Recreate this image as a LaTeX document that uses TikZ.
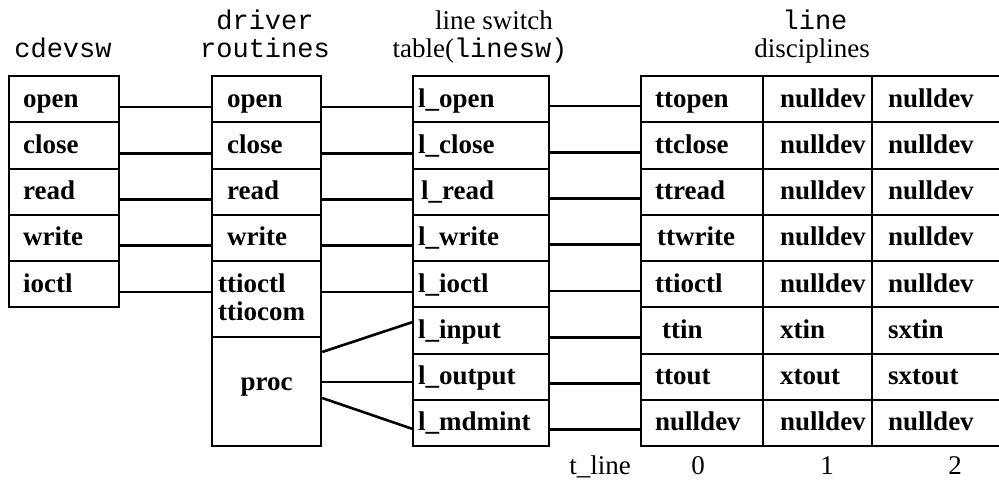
\documentclass[tikz,border=0pt]{standalone}
\usepackage{fontspec}
\setmainfont{Liberation Serif}
\setmonofont{Liberation Mono}
\newcommand\bigsize{\fontsize{27}{30}\selectfont}
\begin{document}
\begin{tikzpicture}[x=1pt,y=-1pt,
  cell/.style={draw, line width=2.2pt, rectangle, inner sep=0pt,
               minimum height=46.25pt, anchor=north west},
  lbl/.style={anchor=base west, inner sep=0pt, font=\bigsize\bfseries},
  head/.style={anchor=base, inner sep=0pt, font=\bigsize},
  wire/.style={line width=2.6pt}]
\clip (0,0) rectangle (999,483);

% column headings
\node[head] (hcdev) at (63,57) {\ttfamily cdevsw};
\node[head] (hdrv1) at (265,29) {\ttfamily driver};
\node[head] (hdrv2) at (265,57) {\ttfamily routines};
\node[head] (hlsw1) at (494,29) {line switch};
\node[head] (hlsw2) at (480,57) {table(\texttt{linesw)}};
\node[head] (hdis1) at (815,29) {\ttfamily line};
\node[head] (hdis2) at (812,57) {disciplines};

% cdevsw entries
\foreach \i/\t in {1/open,2/close,3/read,4/write,5/ioctl} {
  \node[cell, minimum width=110pt] (c\i) at (8,{75+(\i-1)*46.25}) {};
  \node[lbl] (ct\i) at ([xshift=15pt,yshift=-32pt]c\i.north west) {\t};
}

% driver routines
\foreach \i/\t in {1/open,2/close,3/read,4/write} {
  \node[cell, minimum width=109pt] (d\i) at (211,{75+(\i-1)*46.25}) {};
  \node[lbl] (dt\i) at ([xshift=16pt,yshift=-32pt]d\i.north west) {\t};
}
\node[cell, minimum width=109pt, minimum height=76pt] (d5) at (211,260) {};
\node[lbl] (dt5) at ([xshift=7pt,yshift=-32pt]d5.north west) {ttioctl};
\node[lbl] (dt6) at ([xshift=7pt,yshift=-60pt]d5.north west) {ttiocom};
\node[cell, minimum width=109pt, minimum height=109pt] (d6) at (211,336) {};
\node[lbl, anchor=base] (dt7) at ([yshift=-54pt]d6.north) {proc};

% line switch table
\foreach \i/\t/\dx in {1/l\_open/6,2/l\_close/6,3/l\_read/9,4/l\_write/6,
                       5/l\_ioctl/6,6/l\_input/6,7/l\_output/6,8/l\_mdmint/6} {
  \node[cell, minimum width=136pt] (s\i) at (412,{75+(\i-1)*46.25}) {};
  \node[lbl] (st\i) at ([xshift=\dx pt,yshift=-32pt]s\i.north west) {\t};
}

% line disciplines, columns 0, 1, 2
\foreach \i/\a/\dx/\b/\c in {1/ttopen/15/nulldev/nulldev,2/ttclose/15/nulldev/nulldev,
    3/ttread/15/nulldev/nulldev,4/ttwrite/17/nulldev/nulldev,
    5/ttioctl/15/nulldev/nulldev,6/ttin/22/xtin/sxtin,
    7/ttout/15/xtout/sxtout,8/nulldev/15/nulldev/nulldev} {
  \node[cell, minimum width=122pt] (a\i) at (640,{75+(\i-1)*46.25}) {};
  \node[cell, minimum width=109pt] (b\i) at (762,{75+(\i-1)*46.25}) {};
  \node[cell, minimum width=150pt] (e\i) at (871,{75+(\i-1)*46.25}) {};
  \node[lbl] (at\i) at ([xshift=\dx pt,yshift=-32pt]a\i.north west) {\a};
  \node[lbl] (bt\i) at ([xshift=18pt,yshift=-32pt]b\i.north west) {\b};
  \node[lbl] (et\i) at ([xshift=17pt,yshift=-32pt]e\i.north west) {\c};
}

% connectors: cdevsw -> driver routines -> line switch
\foreach \i in {1,...,5} {
  \draw[wire] ([yshift=-32pt]c\i.north east) -- ([yshift=-32pt]d\i.north west);
}
\foreach \i in {1,...,5} {
  \draw[wire] ([yshift=-32pt]d\i.north east) -- ([yshift=-32pt]s\i.north west);
}
\draw[wire] ([yshift=-16pt]d6.north east) -- ([yshift=-16pt]s6.north west);
\draw[wire] ([yshift=-46pt]d6.north east) -- ([yshift=-29.5pt]s7.north west);
\draw[wire] ([yshift=-62pt]d6.north east) -- ([yshift=-30pt]s8.north west);

% connectors: line switch -> line disciplines
\foreach \i in {1,...,8} {
  \draw[wire] ([yshift=-31pt]s\i.north east) -- ([yshift=-31pt]a\i.north west);
}

% t_line index
\node[head] (tl) at (600,474) {t\_line};
\node[head] (n0) at (698,474) {0};
\node[head] (n1) at (827,474) {1};
\node[head] (n2) at (955,474) {2};
\end{tikzpicture}
\end{document}
